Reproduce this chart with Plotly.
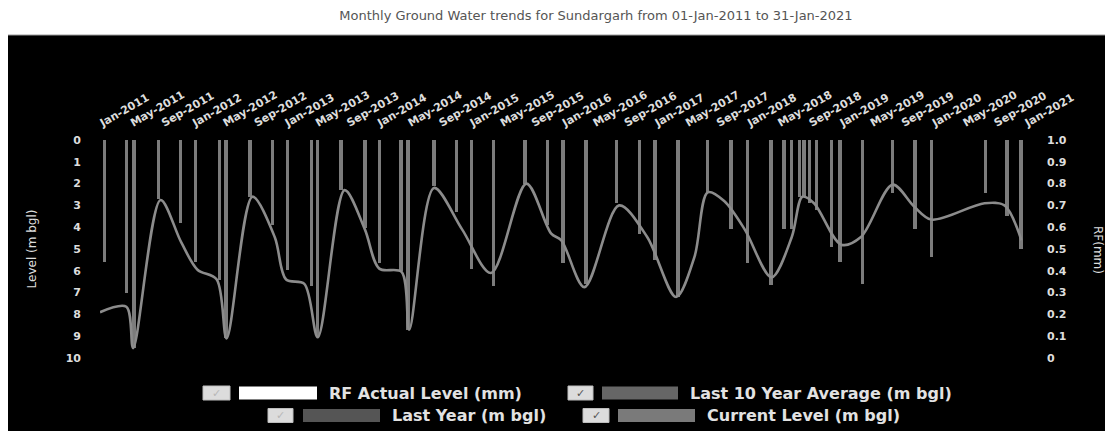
import plotly.graph_objects as go

# ---------------- data ----------------
TITLE = "Monthly Ground Water trends for Sundargarh from 01-Jan-2011 to 31-Jan-2021"

x_tick_start = "2011-01-01"
x_tick_step = "M4"
x_tick_format = "%b-%Y"

left_ticks = [0, 1, 2, 3, 4, 5, 6, 7, 8, 9, 10]
right_ticks = [0, 0.1, 0.2, 0.3, 0.4, 0.5, 0.6, 0.7, 0.8, 0.9, 1.0]
right_tick_labels = ["0", "0.1", "0.2", "0.3", "0.4", "0.5", "0.6", "0.7", "0.8", "0.9", "1.0"]

# smooth water-level curve (m bgl)
level_dates = ["2011-01-01", "2011-04-15", "2011-05-12", "2011-08-28", "2011-11-18",
               "2012-01-21", "2012-04-06", "2012-05-15", "2012-08-25", "2012-11-21",
               "2013-01-05", "2013-03-18", "2013-05-10", "2013-08-24", "2013-11-12",
               "2014-01-08", "2014-04-06", "2014-05-06", "2014-08-12", "2014-12-01",
               "2015-03-25", "2015-08-12", "2015-11-18", "2015-12-28",
               "2016-03-28", "2016-08-12", "2016-12-01",
               "2017-03-25", "2017-06-06", "2017-07-28", "2017-10-01", "2017-12-21",
               "2018-04-06", "2018-06-25", "2018-08-06", "2018-09-21",
               "2019-01-06", "2019-03-25", "2019-07-28", "2019-10-21", "2019-12-28",
               "2020-07-25", "2020-10-12", "2020-12-18"]
level_values = [7.9, 7.65, 9.55, 2.75, 4.7,
                5.95, 6.4, 9.1, 2.6, 4.45,
                6.4, 6.6, 9.05, 2.3, 4.1,
                5.9, 6.05, 8.7, 2.2, 4.1,
                6.1, 2.0, 4.3, 4.6,
                6.75, 3.0, 4.45,
                7.2, 5.35, 2.4, 2.8, 4.1,
                6.3, 4.45, 2.6, 2.9,
                4.8, 4.45, 2.05, 3.05, 3.65,
                2.9, 3.0, 4.6]

# observation bars hanging from 0 (m bgl)
bar_dates = ["2011-01-18", "2011-04-15", "2011-05-15", "2011-08-20", "2011-11-15",
             "2012-01-12", "2012-04-18", "2012-05-12", "2012-08-15", "2012-11-12",
             "2013-01-10", "2013-04-15", "2013-05-10", "2013-08-10", "2013-11-12",
             "2014-01-10", "2014-04-04", "2014-05-01", "2014-08-12", "2014-11-10",
             "2015-01-07", "2015-04-04", "2015-08-07", "2015-11-04",
             "2016-01-04", "2016-04-04", "2016-08-01", "2016-11-01",
             "2017-01-01", "2017-04-01", "2017-07-28", "2017-10-28",
             "2018-01-01", "2018-04-04", "2018-05-25", "2018-06-25", "2018-07-25",
             "2018-08-12", "2018-09-04", "2018-10-01", "2018-11-28",
             "2019-01-01", "2019-04-01", "2019-07-28", "2019-10-25", "2019-12-28",
             "2020-07-28", "2020-10-22", "2020-12-16"]
bar_values = [5.6, 7.0, 9.55, 2.7, 3.8,
              5.6, 6.4, 9.1, 2.6, 3.9,
              5.95, 6.7, 9.05, 2.3, 4.05,
              5.65, 6.0, 8.7, 2.1, 3.3,
              5.9, 6.7, 2.0, 3.9,
              5.65, 6.6, 2.9, 4.3,
              5.5, 7.2, 2.45, 4.1,
              5.65, 6.65, 4.1, 4.1, 2.6,
              2.6, 2.9, 3.2, 4.9,
              5.6, 6.6, 2.45, 4.1, 5.35,
              2.45, 3.5, 5.0]

# rainfall (mm) - nothing visible in the picture
rf_dates = ["2011-07-01", "2012-07-01", "2013-07-01", "2014-07-01", "2015-07-01",
            "2016-07-01", "2017-07-01", "2018-07-01", "2019-07-01", "2020-07-01"]
rf_values = [0, 0, 0, 0, 0, 0, 0, 0, 0, 0]

legend_names = ["RF Actual Level (mm)", "Last 10 Year Average (m bgl)",
                "Last Year (m bgl)", "Current Level (m bgl)"]
legend_colors = ["#ffffff", "#666666", "#555555", "#7a7a7a"]
legend_checked = [False, True, False, True]

# ---------------- layout geometry ----------------
# the page body adds an 8px offset; reference pixel positions are shifted by it
OFF = 8
W, H = 1113 - OFF, 431 - OFF
PLOT_L, PLOT_R, PLOT_T, PLOT_B = 100, 1026, 140, 358   # reference pixels
ML, MT = PLOT_L - OFF, PLOT_T - OFF
MR, MB = W - (PLOT_R - OFF), H - (PLOT_B - OFF)
PW = PLOT_R - PLOT_L
PH = PLOT_B - PLOT_T


def px(x):
    return (x - PLOT_L) / PW


def py(y):
    return (PLOT_B - y) / PH


fig = go.Figure()

fig.add_trace(go.Bar(
    x=rf_dates, y=rf_values, name=legend_names[0], yaxis="y2",
    marker=dict(color="rgba(0,0,0,0)", line=dict(width=0)), showlegend=False,
    width=1.1e9,
))
fig.add_trace(go.Bar(
    x=bar_dates, y=bar_values, name=legend_names[3],
    marker=dict(color="#7c7c7c", line=dict(width=0)), width=1.15e9,
    showlegend=False,
))
fig.add_trace(go.Scatter(
    x=level_dates, y=level_values, name=legend_names[1], mode="lines",
    line=dict(color="#8c8c8c", width=2.6, shape="spline", smoothing=0.9),
    showlegend=False,
))

shapes = [dict(type="rect", xref="paper", yref="paper", layer="below",
               x0=px(5), x1=px(1113 + 5), y0=py(431 + 5), y1=py(35),
               fillcolor="black", line=dict(color="#9a9a9a", width=1))]
annotations = []

# manual legend (two centred rows, checkbox + swatch + label)
legend_layout = [
    # row_y, checkbox x0, x1, swatch x0, x1, text x0   (reference pixels)
    (393, 203, 230, 239, 317, 327),
    (393, 568, 593, 602, 678, 688),
    (415.5, 268, 293, 303, 380, 390),
    (415.5, 583, 609, 618, 695, 705),
]
for name, col, chk, (ry, cb0, cb1, sw0, sw1, tx0) in zip(
        legend_names, legend_colors, legend_checked, legend_layout):
    shapes.append(dict(type="rect", xref="paper", yref="paper",
                       x0=px(cb0), x1=px(cb1), y0=py(ry + 7), y1=py(ry - 7),
                       fillcolor="#dcdcdc", line=dict(color="#bdbdbd", width=1)))
    annotations.append(dict(xref="paper", yref="paper", x=px((cb0 + cb1) / 2), y=py(ry),
                            text="✓", showarrow=False, xanchor="center", yanchor="middle",
                            font=dict(family="DejaVu Sans", size=11,
                                      color="#555555" if chk else "#b8b8b8")))
    shapes.append(dict(type="rect", xref="paper", yref="paper",
                       x0=px(sw0), x1=px(sw1), y0=py(ry + 6.5), y1=py(ry - 6.5),
                       fillcolor=col, line=dict(width=0)))
    annotations.append(dict(xref="paper", yref="paper", x=px(tx0), y=py(ry),
                            text=name, showarrow=False, xanchor="left", yanchor="middle",
                            font=dict(family="DejaVu Sans", size=16, color="#e2e2e2",
                                      weight="bold")))

# right axis title (reads top-to-bottom)
annotations.append(dict(xref="paper", yref="paper", x=px(1098), y=py(250),
                        text="RF(mm)", showarrow=False, textangle=90,
                        xanchor="center", yanchor="middle",
                        font=dict(family="DejaVu Sans", size=12, color="#dddddd")))

fig.update_layout(
    width=W, height=H, autosize=False,
    margin=dict(l=ML, r=MR, t=MT, b=MB, pad=0),
    paper_bgcolor="white", plot_bgcolor="black",
    barmode="overlay", bargap=0,
    showlegend=False,
    title=dict(text=TITLE, xref="container", yref="container", x=(596 - OFF) / W,
               y=1 - (15 - OFF) / H, xanchor="center", yanchor="middle",
               font=dict(family="DejaVu Sans", size=13, color="#555555")),
    xaxis=dict(type="date", side="top", range=["2011-01-01", "2021-01-05"],
               tickmode="linear", tick0=x_tick_start, dtick=x_tick_step,
               tickformat=x_tick_format, tickangle=-30,
               tickfont=dict(family="DejaVu Sans", size=11, color="#dddddd",
                             weight="bold"),
               showgrid=False, zeroline=False, showline=False, ticks="",
               ticklabelstandoff=9),
    yaxis=dict(range=[10, 0], tickmode="array", tickvals=left_ticks,
               tickfont=dict(family="DejaVu Sans", size=11, color="#dddddd",
                             weight="bold"),
               showgrid=False, zeroline=False, showline=False, ticks="",
               ticklabelstandoff=18,
               title=dict(text="Level (m bgl)", standoff=26,
                          font=dict(family="DejaVu Sans", size=12, color="#dddddd"))),
    yaxis2=dict(overlaying="y", side="right", range=[0, 1], tickmode="array",
                tickvals=right_ticks, ticktext=right_tick_labels,
                tickfont=dict(family="DejaVu Sans", size=11, color="#dddddd",
                              weight="bold"),
                showgrid=False, zeroline=False, showline=False, ticks="",
                ticklabelstandoff=20),
    shapes=shapes,
    annotations=annotations,
)

fig.write_html("out.html")
